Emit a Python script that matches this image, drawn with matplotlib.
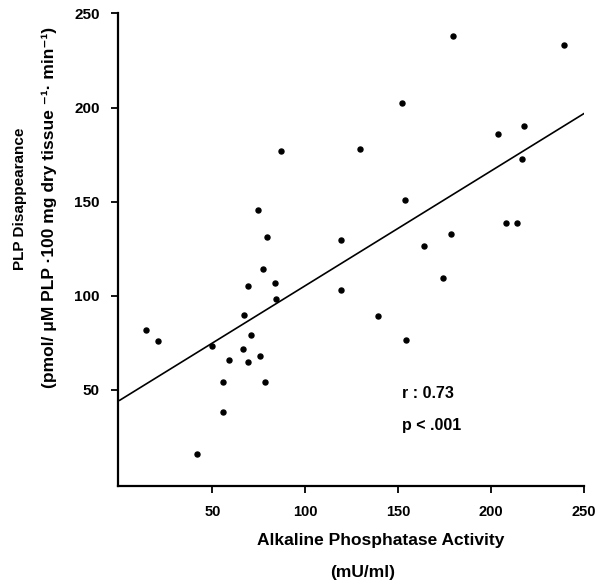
import matplotlib.pyplot as plt

plt.rcParams['font.family'] = ['Liberation Sans', 'DejaVu Sans']
plt.rcParams['font.weight'] = 'bold'

# Alkaline phosphatase activity (mU/ml) vs PLP disappearance
alk_phos = [87, 74.5, 79.5, 119, 129.5, 179.5, 239.5, 152, 218, 204,
            217, 154, 208, 214, 178.5, 164, 77, 69, 83.5, 84,
            119, 67, 14, 20.5, 70.5, 50, 66.5, 75.5, 59, 69,
            55.5, 78.5, 55.5, 41.5, 174, 139, 154.5]
plp_disapp = [177, 145.5, 131, 129.5, 178, 238, 233, 202.5, 190, 186,
              172.5, 151, 138.5, 138.5, 133, 126.5, 114, 105, 107, 98.5,
              103, 90, 82, 76, 79, 73.5, 72, 68, 66, 65,
              54, 54, 38.5, 16, 109.5, 89.5, 76.5]

# regression line end points
fit_x = [0, 250]
fit_y = [44.5, 196.7]

x_ticks = [50, 100, 150, 200, 250]
y_ticks = [50, 100, 150, 200, 250]

fig = plt.figure(figsize=(5.98, 5.82), dpi=100)
ax = fig.add_axes([0.197, 0.165, 0.779, 0.812])

ax.plot(alk_phos, plp_disapp, 'o', color='black', markersize=3.6)
ax.plot(fit_x, fit_y, '-', color='black', linewidth=1.2)

ax.set_xlim(-1, 250)
ax.set_ylim(-1, 250)
ax.set_xticks(x_ticks)
ax.set_yticks(y_ticks)
ax.tick_params(direction='out', length=5, width=1.3, labelsize=11, pad=9)
ax.tick_params(axis='x', labelsize=10.5)
ax.tick_params(axis='y', pad=8)

for side in ['top', 'right']:
    ax.spines[side].set_visible(False)
for side in ['left', 'bottom']:
    ax.spines[side].set_linewidth(1.6)

ax.text(152, 48, 'r : 0.73', fontsize=11.5, fontweight='bold', va='center')
ax.text(152, 31, 'p < .001', fontsize=11.5, fontweight='bold', va='center')

# axis labels, two lines each
fig.text(0.637, 0.072, 'Alkaline Phosphatase Activity', ha='center', va='center',
         fontsize=12.5, fontweight='bold')
fig.text(0.607, 0.017, '(mU/ml)', ha='center', va='center',
         fontsize=12.5, fontweight='bold')
fig.text(0.034, 0.658, 'PLP Disappearance', ha='center', va='center',
         rotation=90, fontsize=11, fontweight='bold')
fig.text(0.082, 0.644, '(pmol/ \u03bcM PLP \u00b7100 mg dry tissue \u207b\u00b9\u00b7 min\u207b\u00b9)',
         ha='center', va='center', rotation=90, fontsize=12.5, fontweight='bold')

fig.savefig('out.png', dpi=100)
